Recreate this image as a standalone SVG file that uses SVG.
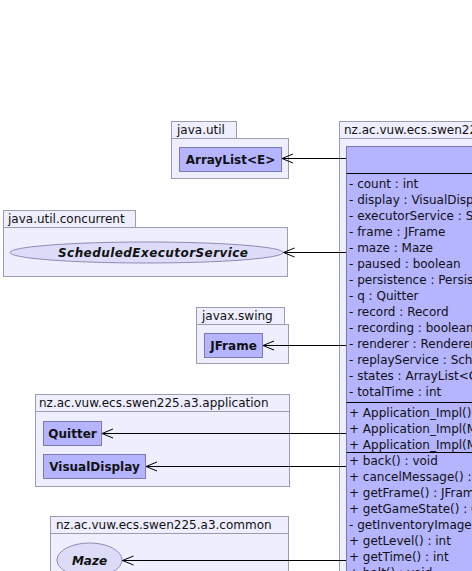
<svg xmlns="http://www.w3.org/2000/svg" width="472" height="571" viewBox="0 0 472 571">
  <style>
    .pkg { fill: #eeeeff; stroke: #9c9cb0; stroke-width: 1; }
    .cls { fill: #b4b4ff; stroke: #7a7ab0; stroke-width: 1; }
    .ifc { fill: #dcdcf8; stroke: #8c8cb4; stroke-width: 1; }
    .sep { stroke: #000; stroke-width: 1; }
    .plabel { font-family: "DejaVu Sans", "Liberation Sans", sans-serif; font-size: 12px; fill: #111; }
    .cname { font-family: "DejaVu Sans", "Liberation Sans", sans-serif; font-size: 12px; font-weight: bold; fill: #111; text-anchor: middle; }
    .iname { font-style: italic; }
    .member { font-family: "DejaVu Sans", "Liberation Sans", sans-serif; font-size: 12px; fill: #111; }
    .dep { stroke: #000; stroke-width: 1; fill: none; marker-end: url(#open); }
  </style>
  <defs>
    <marker id="open" markerUnits="userSpaceOnUse" orient="auto" refX="0" refY="0" markerWidth="14" markerHeight="10" overflow="visible">
      <path d="M-11,-4.5 L0,0 L-11,4.5" fill="none" stroke="#000" stroke-width="1"/>
    </marker>
    <clipPath id="viewClip"><rect x="0" y="0" width="472" height="571"/></clipPath>
  </defs>

  <!-- java.util -->
  <g id="pkg-java-util">
    <rect class="pkg" x="171.5" y="121.5" width="65" height="17"/>
    <rect class="pkg" x="171.5" y="138.5" width="117" height="40"/>
    <text class="plabel" x="177" y="134">java.util</text>
    <g id="ArrayList">
      <rect class="cls" x="179.5" y="147.5" width="102" height="24"/>
      <text class="cname" x="230.5" y="164">ArrayList&lt;E&gt;</text>
    </g>
  </g>

  <!-- java.util.concurrent -->
  <g id="pkg-java-util-concurrent">
    <rect class="pkg" x="3.5" y="210.5" width="132" height="17"/>
    <rect class="pkg" x="3.5" y="227.5" width="284" height="49"/>
    <text class="plabel" x="8" y="223">java.util.concurrent</text>
    <g id="ScheduledExecutorService">
      <ellipse class="ifc" cx="146.5" cy="252.5" rx="136.5" ry="10.5"/>
      <text class="cname iname" x="153" y="257" font-size="12.7" textLength="190" lengthAdjust="spacing">ScheduledExecutorService</text>
    </g>
  </g>

  <!-- javax.swing -->
  <g id="pkg-javax-swing">
    <rect class="pkg" x="196.5" y="307.5" width="88" height="17"/>
    <rect class="pkg" x="196.5" y="324.5" width="92" height="39"/>
    <text class="plabel" x="202" y="320">javax.swing</text>
    <g id="JFrame">
      <rect class="cls" x="204.5" y="333.5" width="58" height="24"/>
      <text class="cname" x="233.5" y="350">JFrame</text>
    </g>
  </g>

  <!-- nz.ac.vuw.ecs.swen225.a3.application -->
  <g id="pkg-application">
    <rect class="pkg" x="35.5" y="394.5" width="254" height="17"/>
    <rect class="pkg" x="35.5" y="411.5" width="254" height="75"/>
    <text class="plabel" x="39" y="407">nz.ac.vuw.ecs.swen225.a3.application</text>
    <g id="Quitter">
      <rect class="cls" x="43.5" y="421.5" width="58" height="24"/>
      <text class="cname" x="72.5" y="438">Quitter</text>
    </g>
    <g id="VisualDisplay">
      <rect class="cls" x="43.5" y="454.5" width="102" height="24"/>
      <text class="cname" x="94.5" y="471">VisualDisplay</text>
    </g>
  </g>

  <!-- nz.ac.vuw.ecs.swen225.a3.common -->
  <g id="pkg-common">
    <rect class="pkg" x="50.5" y="516.5" width="238" height="17"/>
    <rect class="pkg" x="50.5" y="533.5" width="238" height="60"/>
    <text class="plabel" x="56" y="529">nz.ac.vuw.ecs.swen225.a3.common</text>
    <g id="Maze">
      <ellipse class="ifc" cx="89.5" cy="560" rx="32.5" ry="17"/>
      <text class="cname iname" x="89.5" y="564.5">Maze</text>
    </g>
  </g>

  <!-- package holding Application_Impl (runs past the right and bottom edges) -->
  <g id="pkg-impl" clip-path="url(#viewClip)">
    <rect class="pkg" x="339.5" y="121.5" width="200" height="17"/>
    <rect class="pkg" x="339.5" y="138.5" width="200" height="500"/>
    <text class="plabel" x="344" y="134">nz.ac.vuw.ecs.swen225</text>
    <g id="Application_Impl">
      <rect class="cls" x="346.5" y="146.5" width="200" height="480"/>
      <line class="sep" x1="346.5" y1="173.5" x2="546" y2="173.5"/>
      <line class="sep" x1="346.5" y1="402.5" x2="546" y2="402.5"/>
      <line class="sep" x1="346.5" y1="452.5" x2="546" y2="452.5"/>
      <g class="member">
        <text x="349" y="188">- count : int</text>
        <text x="349" y="204">- display : VisualDisplay</text>
        <text x="349" y="220">- executorService : ScheduledExecutorService</text>
        <text x="349" y="236">- frame : JFrame</text>
        <text x="349" y="252">- maze : Maze</text>
        <text x="349" y="268">- paused : boolean</text>
        <text x="349" y="284">- persistence : Persis</text>
        <text x="349" y="300">- q : Quitter</text>
        <text x="349" y="316">- record : Record</text>
        <text x="349" y="332">- recording : boolean</text>
        <text x="349" y="348">- renderer : Renderer</text>
        <text x="349" y="364">- replayService : ScheduledExecutorService</text>
        <text x="349" y="380">- states : ArrayList&lt;G</text>
        <text x="349" y="396">- totalTime : int</text>
        <text x="349" y="417">+ Application_Impl()</text>
        <text x="349" y="433">+ Application_Impl(M</text>
        <text x="349" y="449">+ Application_Impl(M</text>
        <text x="349" y="465">+ back() : void</text>
        <text x="349" y="481">+ cancelMessage() : void</text>
        <text x="349" y="497">+ getFrame() : JFrame</text>
        <text x="349" y="513">+ getGameState() : G</text>
        <text x="349" y="529">- getInventoryImageL</text>
        <text x="349" y="545">+ getLevel() : int</text>
        <text x="349" y="561">+ getTime() : int</text>
        <text x="349" y="577">+ halt() : void</text>
      </g>
    </g>
  </g>

  <!-- dependencies from Application_Impl -->
  <g id="connectors">
    <line class="dep" x1="346" y1="158.5" x2="282" y2="158.5"/>
    <line class="dep" x1="346" y1="252.5" x2="283.5" y2="252.5"/>
    <line class="dep" x1="346" y1="345.5" x2="263" y2="345.5"/>
    <line class="dep" x1="346" y1="433.5" x2="102" y2="433.5"/>
    <line class="dep" x1="346" y1="466.5" x2="146" y2="466.5"/>
    <line class="dep" x1="346" y1="560.5" x2="122.5" y2="560.5"/>
  </g>
</svg>
